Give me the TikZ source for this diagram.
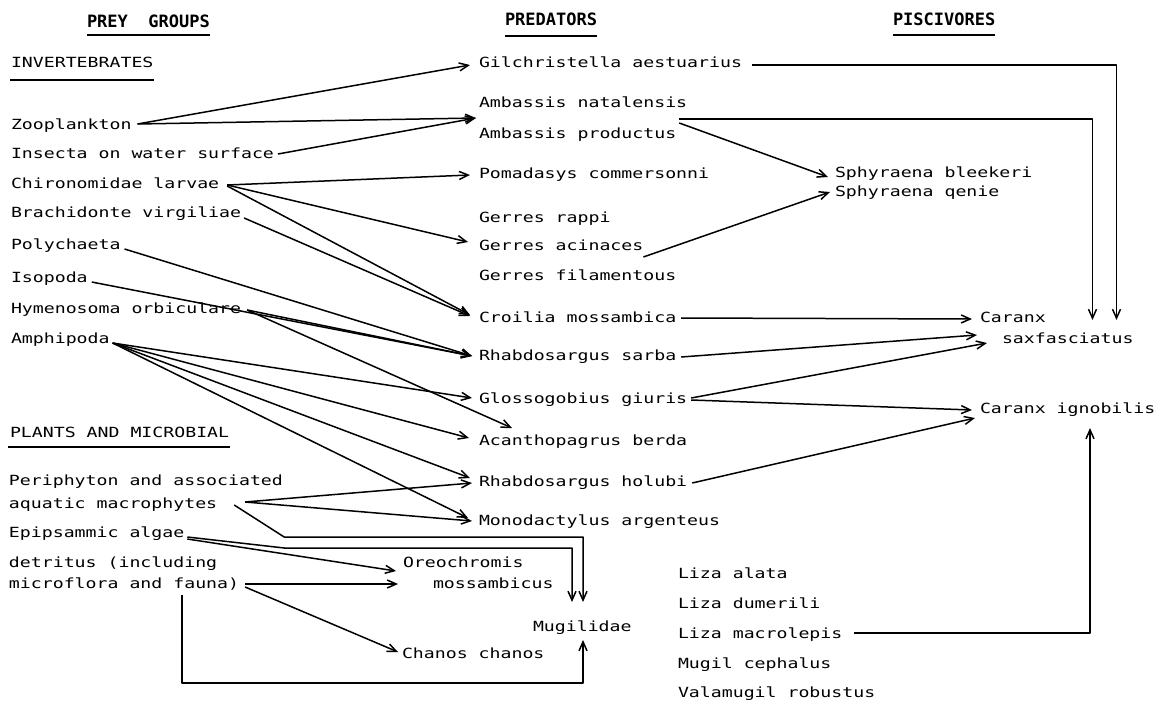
\documentclass[tikz,border=0pt]{standalone}
\usepackage{fontspec}
\newfontfamily\plotfont[FakeStretch=1.3]{DejaVu Sans Mono}
\newfontfamily\headfont{DejaVu Sans Mono}
\usetikzlibrary{arrows.meta,calc}
\begin{document}
\begin{tikzpicture}[x=1pt,y=-1pt,
  lbl/.style={anchor=west, inner sep=0pt, outer sep=0pt, text height=10pt, text depth=0pt,
    font=\plotfont\fontsize{14}{16}\selectfont},
  hdr/.style={anchor=west, inner sep=0pt, outer sep=0pt, text height=12pt, text depth=0pt,
    font=\headfont\bfseries\fontsize{17}{19}\selectfont},
  conn/.style={line width=1.5pt, line join=round},
  arr/.style={conn, -{Straight Barb[length=9pt,width=8pt]}}]
\fill[white] (0,0) rectangle (1155,701);
\useasboundingbox (0,0) rectangle (1155,701);

% headers
\node[hdr] (hprey) at (87,22) {PREY\ \ GROUPS};
\node[hdr] (hpred) at (505,20) {PREDATORS};
\node[hdr] (hpisc) at (893,20) {PISCIVORES};
\draw[conn] ($(hprey.west)+(0,13)$) -- ($(hprey.east)+(0,13)$);
\draw[conn] ($(hpred.west)+(0,16)$) -- ($(hpred.east)+(0,16)$);
\draw[conn] ($(hpisc.west)+(0,15)$) -- ($(hpisc.east)+(0,15)$);

% prey groups
\node[lbl] (inv) at (11,62) {INVERTEBRATES};
\draw[conn] ($(inv.west)+(-1,18)$) -- ($(inv.east)+(1,18)$);
\node[lbl] (zoo) at (11,124) {Zooplankton};
\node[lbl] (ins) at (11,153) {Insecta on water surface};
\node[lbl] (chi) at (11,183) {Chironomidae larvae};
\node[lbl] (bra) at (11,212) {Brachidonte virgiliae};
\node[lbl] (pol) at (11,244) {Polychaeta};
\node[lbl] (iso) at (11,277) {Isopoda};
\node[lbl] (hym) at (11,308) {Hymenosoma orbiculare};
\node[lbl] (amp) at (11,338) {Amphipoda};
\node[lbl] (pla) at (10,432) {PLANTS AND MICROBIAL};
\draw[conn] ($(pla.west)+(-2,15)$) -- ($(pla.east)+(1,15)$);
\node[lbl] (peri1) at (9,480) {Periphyton and associated};
\node[lbl] (peri2) at (9,503) {aquatic macrophytes};
\node[lbl] (epi) at (9,532) {Epipsammic algae};
\node[lbl] (det1) at (9,562) {detritus (including};
\node[lbl] (det2) at (9,583) {microflora and fauna)};

% predators
\node[lbl] (gil) at (479,62) {Gilchristella aestuarius};
\node[lbl] (ambN) at (479,102) {Ambassis natalensis};
\node[lbl] (ambP) at (479,133) {Ambassis productus};
\node[lbl] (pom) at (479,173) {Pomadasys commersonni};
\node[lbl] (gra) at (479,217) {Gerres rappi};
\node[lbl] (gac) at (479,245) {Gerres acinaces};
\node[lbl] (gfi) at (479,275) {Gerres filamentous};
\node[lbl] (cro) at (479,317) {Croilia mossambica};
\node[lbl] (rsa) at (479,355) {Rhabdosargus sarba};
\node[lbl] (glo) at (479,398) {Glossogobius giuris};
\node[lbl] (aca) at (479,440) {Acanthopagrus berda};
\node[lbl] (rho) at (479,481) {Rhabdosargus holubi};
\node[lbl] (mon) at (479,520) {Monodactylus argenteus};
\node[lbl] (ore1) at (403,562) {Oreochromis};
\node[lbl] (ore2) at (433,583) {mossambicus};
\node[lbl] (mug) at (533,626) {Mugilidae};
\node[lbl] (cha) at (402,653) {Chanos chanos};

% piscivores
\node[lbl] (sph1) at (835,172) {Sphyraena bleekeri};
\node[lbl] (sph2) at (835,191) {Sphyraena qenie};
\node[lbl] (car1) at (980,317) {Caranx};
\node[lbl] (car2) at (1002,338) {saxfasciatus};
\node[lbl] (cig) at (980,408) {Caranx ignobilis};

% mullets
\node[lbl] (lz1) at (678,573) {Liza alata};
\node[lbl] (lz2) at (678,603) {Liza dumerili};
\node[lbl] (lz3) at (678,633) {Liza macrolepis};
\node[lbl] (lz4) at (678,663) {Mugil cephalus};
\node[lbl] (lz5) at (678,692) {Valamugil robustus};

\coordinate (ambIn) at ($(ambP.west)+(-3,-15)$);

% invertebrates -> predators
\draw[arr] ($(zoo.east)+(6,0)$) -- ($(gil.west)+(-9,3)$);
\draw[arr] ($(zoo.east)+(6,0)$) -- (ambIn);
\draw[arr] ($(ins.east)+(4,1)$) -- (ambIn);
\draw[arr] ($(chi.east)+(8,2)$) -- ($(pom.west)+(-9,2)$);
\draw[arr] ($(chi.east)+(8,2)$) -- ($(gac.west)+(-11,-3)$);
\draw[arr] ($(chi.east)+(8,3)$) -- ($(cro.west)+(-9,-2)$);
\draw[arr] ($(bra.east)+(3,6)$) -- ($(cro.west)+(-9,-1)$);
\draw[arr] ($(pol.east)+(4,5)$) -- ($(rsa.west)+(-7,1)$);
\draw[arr] ($(iso.east)+(4,5)$) -- ($(rsa.west)+(-7,1)$);
\draw[arr] ($(hym.east)+(6,2)$) -- ($(rsa.west)+(-7,1)$);
\draw[arr] ($(hym.east)+(6,2)$) -- ($(aca.west)+(33,-12)$);
\draw[arr] ($(amp.east)+(3,5)$) -- ($(glo.west)+(-7,0)$);
\draw[arr] ($(amp.east)+(3,5)$) -- ($(aca.west)+(-10,-2)$);
\draw[arr] ($(amp.east)+(3,5)$) -- ($(rho.west)+(-9,-3)$);
\draw[arr] ($(amp.east)+(3,5)$) -- ($(mon.west)+(-11,-2)$);

% plants -> predators
\draw[arr] ($(peri2.east)+(28,-1)$) -- ($(rho.west)+(-7,2)$);
\draw[arr] ($(peri2.east)+(28,-1)$) -- ($(mon.west)+(-7,1)$);
\draw[arr] ($(peri2.east)+(17,2)$) -- ++(50,32) -| ($(mug.west)+(50,-24)$);
\draw[arr] ($(epi.east)+(3,5)$) -- ++(97,11) -| ($(mug.west)+(39,-24)$);
\draw[arr] ($(epi.east)+(3,7)$) -- ($(ore1.west)+(-7,9)$);
\draw[arr] ($(det2.east)+(6,1)$) -- ($(ore1.west)+(-5,22)$);
\draw[arr] ($(det2.east)+(6,4)$) -- ($(cha.west)+(-4,-1)$);
\draw[arr] ($(det2.west)+(173,12)$) |- ($(mug.west)+(50,57)$) -- ($(mug.west)+(50,14)$);

% predators -> piscivores
\draw[arr] ($(gil.east)+(10,3)$) -| ($(car2.east)+(-17,-18)$);
\draw[arr] ($(ambP.east)+(3,-14)$) -| ($(car2.east)+(-41,-18)$);
\draw[arr] ($(ambP.east)+(3,-10)$) -- ($(sph1.west)+(-7,5)$);
\draw[arr] ($(gac.east)+(0,12)$) -- ($(sph2.west)+(-5,1)$);
\draw[arr] ($(cro.east)+(5,1)$) -- ($(car1.west)+(-8,2)$);
\draw[arr] ($(rsa.east)+(5,2)$) -- ($(car2.west)+(-25,-3)$);
\draw[arr] ($(glo.east)+(4,0)$) -- ($(car2.west)+(-15,5)$);
\draw[arr] ($(glo.east)+(4,2)$) -- ($(cig.west)+(-8,2)$);
\draw[arr] ($(rho.east)+(5,2)$) -- ($(cig.west)+(-5,10)$);
\draw[arr] ($(lz3.east)+(12,0)$) -| ($(cig.west)+(110,20)$);
\end{tikzpicture}
\end{document}
